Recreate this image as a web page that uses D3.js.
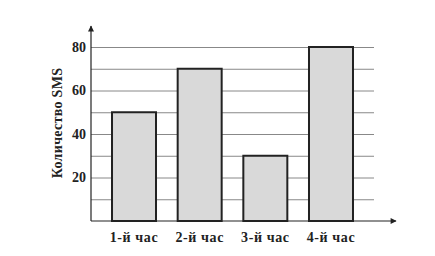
<!DOCTYPE html>
<html>
<head>
<meta charset="utf-8">
<script src="https://cdn.jsdelivr.net/npm/d3@7"></script>
<style>
  body { margin: 0; background: #fff; }
  text { font-family: "Liberation Serif", "DejaVu Serif", serif; font-weight: bold; fill: #222; }
</style>
</head>
<body>
<svg id="chart" width="435" height="256"></svg>
<script>
const hours = ['1-й час', '2-й час', '3-й час', '4-й час'];
const smsCounts = [50, 70, 30, 80];
const yTicks = [20, 40, 60, 80];
const gridValues = [10, 20, 30, 40, 50, 60, 70, 80];
const yLabel = 'Количество SMS';

const svg = d3.select('#chart');
const plotLeft = 91, plotRight = 374, plotTop = 47, plotBottom = 221;

const x = d3.scaleBand()
  .domain(hours)
  .range([plotLeft, plotRight])
  .paddingInner(0.33)
  .paddingOuter(0.32);

const y = d3.scaleLinear()
  .domain([0, 80])
  .range([plotBottom, plotTop]);

// grid lines
svg.append('g')
  .selectAll('line')
  .data(gridValues)
  .join('line')
  .attr('x1', plotLeft)
  .attr('x2', plotRight)
  .attr('y1', d => y(d) + 0.5)
  .attr('y2', d => y(d) + 0.5)
  .style('stroke', '#888')
  .style('stroke-width', 1);

// bars
svg.append('g')
  .selectAll('rect')
  .data(smsCounts)
  .join('rect')
  .attr('x', (d, i) => x(hours[i]))
  .attr('y', d => y(d))
  .attr('width', x.bandwidth())
  .attr('height', d => y(0) - y(d))
  .style('fill', '#d9d9d9')
  .style('stroke', '#222')
  .style('stroke-width', 2);

// axes with arrows
svg.append('defs').append('marker')
  .attr('id', 'arrow')
  .attr('viewBox', '0 0 10 10')
  .attr('refX', 9)
  .attr('refY', 5)
  .attr('markerWidth', 8)
  .attr('markerHeight', 6)
  .attr('markerUnits', 'userSpaceOnUse')
  .attr('orient', 'auto')
  .append('path')
  .attr('d', 'M0,0L10,5L0,10z')
  .style('fill', '#222');

svg.append('line')
  .attr('x1', plotLeft).attr('y1', plotBottom)
  .attr('x2', plotLeft).attr('y2', 26)
  .attr('marker-end', 'url(#arrow)')
  .style('stroke', '#222').style('stroke-width', 1.2);

svg.append('line')
  .attr('x1', plotLeft).attr('y1', plotBottom)
  .attr('x2', 396).attr('y2', plotBottom)
  .attr('marker-end', 'url(#arrow)')
  .style('stroke', '#222').style('stroke-width', 1.2);

// y tick labels
const yAxis = d3.axisLeft(y).tickValues(yTicks).tickSize(0).tickPadding(5);
svg.append('g')
  .attr('transform', `translate(${plotLeft},0)`)
  .call(yAxis)
  .call(g => g.select('.domain').remove())
  .selectAll('text')
  .style('font-size', '14px')
  .style('font-family', '"Liberation Serif", serif')
  .style('fill', '#222');

// x labels
const xAxis = d3.axisBottom(x).tickSize(0).tickPadding(11);
svg.append('g')
  .attr('transform', `translate(0,${plotBottom})`)
  .call(xAxis)
  .call(g => g.select('.domain').remove())
  .selectAll('text')
  .style('font-size', '14px')
  .style('letter-spacing', '0.6px')
  .style('font-family', '"Liberation Serif", serif')
  .style('fill', '#222');

svg.append('text')
  .attr('transform', `translate(62,${(plotTop + plotBottom) / 2 - 11}) rotate(-90)`)
  .attr('text-anchor', 'middle')
  .style('font-size', '14px')
  .style('letter-spacing', '0.3px')
  .text(yLabel);
</script>
</body>
</html>
